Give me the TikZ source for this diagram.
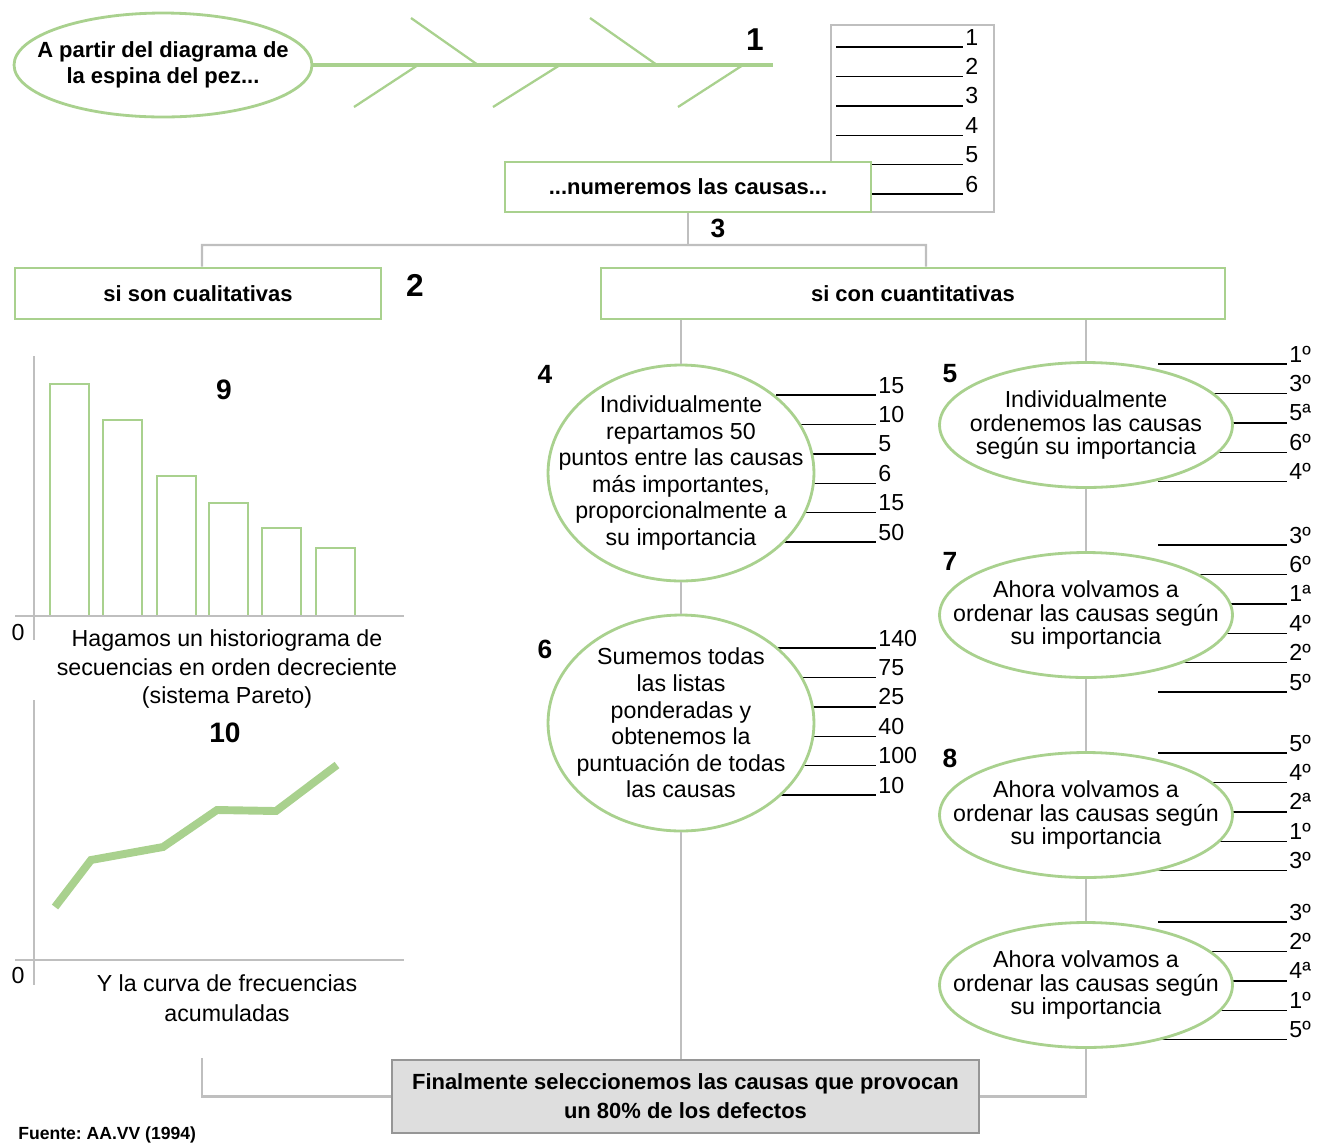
\documentclass[tikz,border=0pt]{standalone}
\usepackage{fontspec}
\setmainfont{Liberation Sans}
\usetikzlibrary{shapes.geometric}
\definecolor{verde}{RGB}{169,209,142}
\definecolor{gris}{RGB}{191,191,191}
\definecolor{grisborde}{RGB}{150,150,150}
\definecolor{grisfondo}{RGB}{222,222,222}
\frenchspacing

\newcommand{\rayas}[4]{%
  \foreach \v [count=\i] in {#4} {
    \pgfmathsetmacro\yy{#3+29.4*(\i-1)}
    \draw[raya] (#1,\yy) -- (#2,\yy);
    \node[valor] at (#2+2,\yy-2) {\v};
  }}

\begin{document}
\begin{tikzpicture}[x=0.02cm, y=-0.02cm,
    caja/.style={draw=verde, line width=1.6pt, fill=white, inner sep=0pt, align=center, font=\bfseries\fontsize{12.5}{16.4}\selectfont},
    ovalo/.style={ellipse, draw=verde, line width=1.6pt, fill=white, inner sep=0pt},
    texto/.style={align=center, inner sep=0pt, font=\fontsize{13.2}{15.1}\selectfont},
    textocorto/.style={align=center, inner sep=0pt, font=\fontsize{13.2}{13.6}\selectfont},
    num/.style={inner sep=0pt, font=\bfseries\fontsize{15}{15}\selectfont},
    conector/.style={draw=gris, line width=1.4pt},
    raya/.style={draw=black, line width=0.8pt},
    valor/.style={anchor=base west, inner sep=0pt, font=\fontsize{13.2}{15}\selectfont}]
    \useasboundingbox (0,0) rectangle (1323,1144);

    \draw[verde, line width=1.8pt] (312,65) -- (773,65);
    \draw[verde, line width=1.3pt] (411,18) -- (478,65);
    \draw[verde, line width=1.3pt] (590,18) -- (657,65);
    \draw[verde, line width=1.3pt] (418,65) -- (354,107);
    \draw[verde, line width=1.3pt] (560,65) -- (493,107);
    \draw[verde, line width=1.3pt] (743,65) -- (678,107);
    \node[ovalo, minimum width=5.96cm, minimum height=2.08cm] (pez) at (163,65) {};
    \node[texto, font=\bfseries\fontsize{12.5}{14.7}\selectfont] at (pez) {A partir del diagrama de\\la espina del pez...};
    \node[num, font=\bfseries\fontsize{18}{18}\selectfont] (n1) at (755,40) {1};

    \node[draw=gris, line width=1.4pt, minimum width=3.26cm, minimum height=3.74cm] (lista) at (912.5,118.5) {};
    \rayas{836}{963}{47}{1,2,3,4,5,6}
    \node[caja, minimum width=7.32cm, minimum height=1cm] (numeremos) at (688,187) {...numeremos las causas...};
    \node[num] (n3) at (718,228) {3};

    \node[caja, minimum width=7.32cm, minimum height=1.02cm] (cualitativas) at (198,293.5) {si son cualitativas};
    \node[num, font=\bfseries\fontsize{18}{18}\selectfont] (n2) at (415,285) {2};
    \node[caja, minimum width=12.48cm, minimum height=1.02cm] (cuantitativas) at (913,293.5) {si con cuantitativas};

    \rayas{776}{876}{395}{15,10,5,6,15,50}
    \rayas{776}{876}{648}{140,75,25,40,100,10}
    \rayas{1158}{1287}{364}{1º,3º,5ª,6º,4º}
    \rayas{1158}{1287}{545}{3º,6º,1ª,4º,2º,5º}
    \rayas{1158}{1287}{753}{5º,4º,2ª,1º,3º}
    \rayas{1158}{1287}{922}{3º,2º,4ª,1º,5º}

    \node[ovalo, minimum width=5.32cm, minimum height=4.32cm] (e4) at (681,473) {};
    \node[texto] at (e4) {Individualmente\\repartamos 50\\puntos entre las causas\\más importantes,\\proporcionalmente a\\su importancia};
    \node[num] (n4) at (545,374) {4};
    \node[ovalo, minimum width=5.32cm, minimum height=4.32cm] (e6) at (681,723) {};
    \node[texto] at (e6) {Sumemos todas\\las listas\\ponderadas y\\obtenemos la\\puntuación de todas\\las causas};
    \node[num] (n6) at (545,649) {6};

    \node[ovalo, minimum width=5.86cm, minimum height=2.5cm] (e5) at (1086,425) {};
    \node[textocorto] at (e5) {Individualmente\\ordenemos las causas\\según su importancia};
    \node[num] (n5) at (950,374) {5};
    \node[ovalo, minimum width=5.86cm, minimum height=2.5cm] (e7) at (1086,615) {};
    \node[textocorto] at (e7) {Ahora volvamos a\\ordenar las causas según\\su importancia};
    \node[num] (n7) at (950,561) {7};
    \node[ovalo, minimum width=5.86cm, minimum height=2.5cm] (e8) at (1086,815) {};
    \node[textocorto] at (e8) {Ahora volvamos a\\ordenar las causas según\\su importancia};
    \node[num] (n8) at (950,758) {8};
    \node[ovalo, minimum width=5.86cm, minimum height=2.5cm] (e9) at (1086,985) {};
    \node[textocorto] at (e9) {Ahora volvamos a\\ordenar las causas según\\su importancia};

    \node[caja, draw=grisborde, fill=grisfondo, minimum width=11.74cm, minimum height=1.46cm] (final) at (685.5,1096.5) {Finalmente seleccionemos las causas que provocan\\un 80\% de los defectos};

    \draw[conector] (numeremos.south) -- (numeremos.south |- 0,245);
    \draw[conector] ([xshift=0.08cm]cualitativas.north) |- (926,245) -- ([xshift=0.26cm]cuantitativas.north);
    \draw[conector] (cuantitativas.south -| e4.north) -- (e4.north);
    \draw[conector] (cuantitativas.south -| e5.north) -- (e5.north);
    \draw[conector] (e4.south) -- (e6.north);
    \draw[conector] (e6.south) -- (e6.south |- final.north);
    \draw[conector] (e5.south) -- (e7.north);
    \draw[conector] (e7.south) -- (e8.north);
    \draw[conector] (e8.south) -- (e9.north);
    \draw[conector] (e9.south) |- (final.east);
    \coordinate (izq) at (202,1058);
    \draw[conector] (izq) |- (final.west);

    \foreach \x/\h in {50/384,103/420,157/476,209/503,262/528,316/548}
      \draw[verde, line width=1.6pt] (\x,616) rectangle (\x+39,\h);
    \draw[conector] (34,356) -- (34,640);
    \draw[conector] (15,616) -- (404,616);
    \node[inner sep=0pt, font=\fontsize{13.2}{13.2}\selectfont] (cero9) at (18,633) {0};
    \node[num, font=\bfseries\fontsize{16}{16}\selectfont] (n9) at (224,390) {9};
    \node[align=center, font=\fontsize{13.2}{16.4}\selectfont] (pie9) at (227,669) {Hagamos un historiograma de\\secuencias en orden decreciente\\(sistema Pareto)};

    \draw[verde, line width=4.5pt] (55,907) -- (91,860) -- (163,847) -- (217,810) -- (276,811) -- (337,765);
    \draw[conector] (34,700) -- (34,985);
    \draw[conector] (15,960) -- (404,960);
    \node[inner sep=0pt, font=\fontsize{13.2}{13.2}\selectfont] (cero10) at (18,976) {0};
    \node[num, font=\bfseries\fontsize{16}{16}\selectfont] (n10) at (225,733) {10};
    \node[align=center, font=\fontsize{13.2}{16.9}\selectfont] (pie10) at (227,998) {Y la curva de frecuencias\\acumuladas};

    \node[anchor=west, inner sep=0pt, font=\bfseries\fontsize{10}{10}\selectfont] (fuente) at (18,1135) {Fuente: AA.VV (1994)};
\end{tikzpicture}
\end{document}
